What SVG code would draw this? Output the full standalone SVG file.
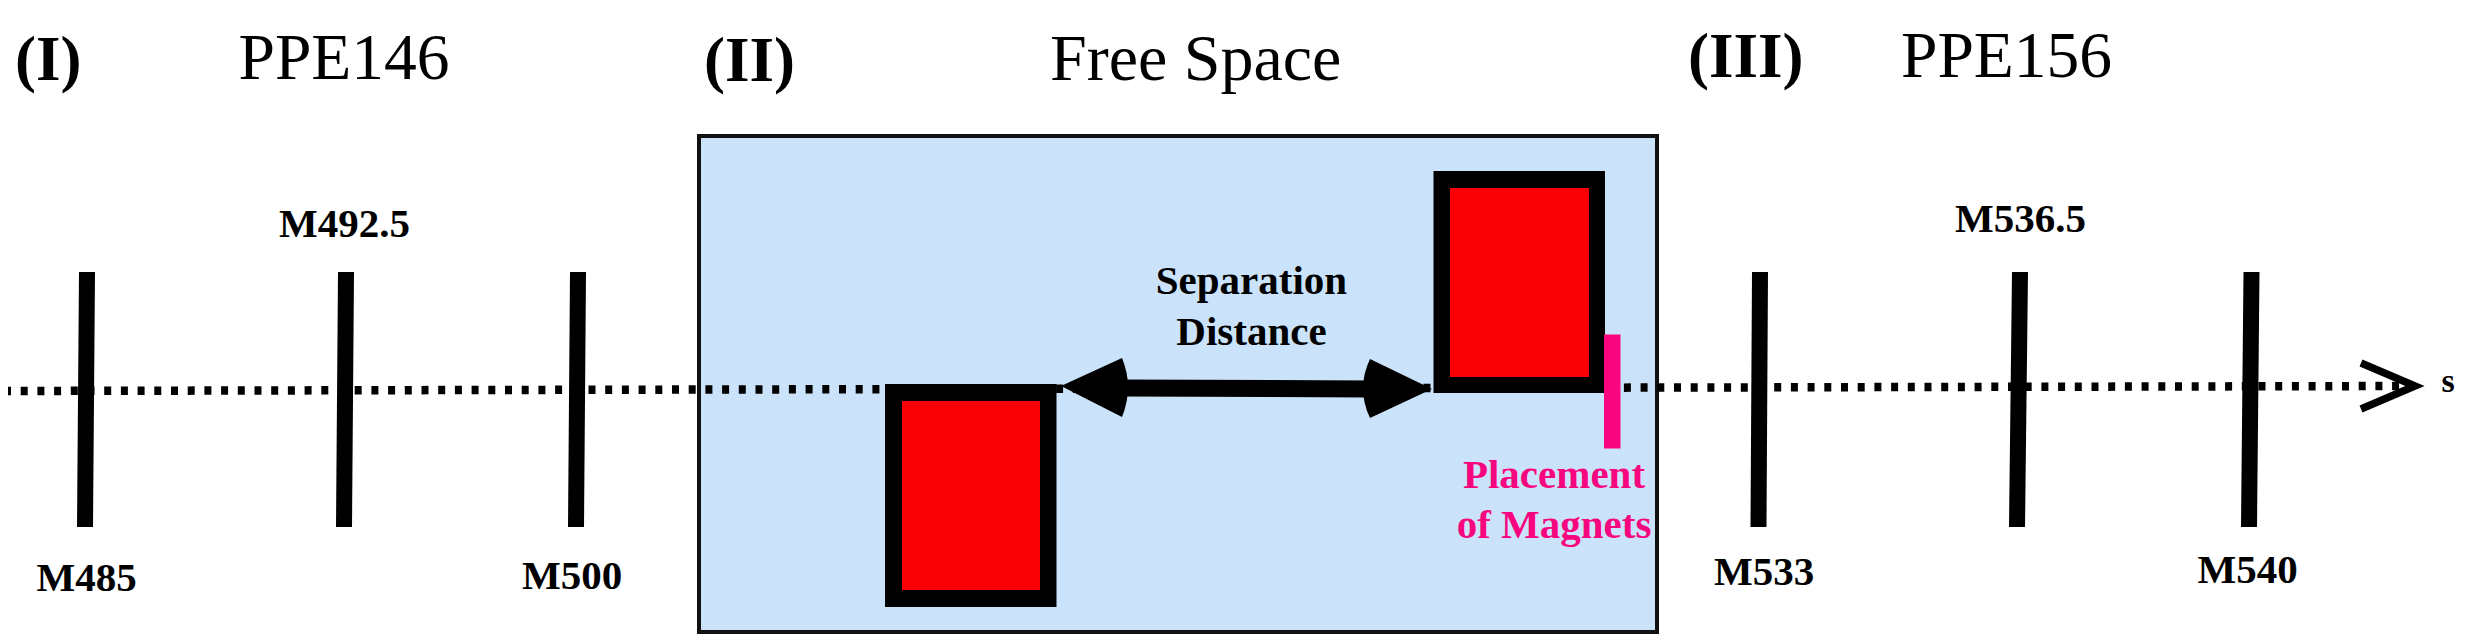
<svg xmlns="http://www.w3.org/2000/svg" width="2466" height="644" viewBox="0 0 2466 644">
<style>
  .hb { font-family: "Liberation Serif", "Times New Roman", serif; font-weight: bold; font-size: 63px; fill: #000; }
  .hr { font-family: "Liberation Serif", "Times New Roman", serif; font-weight: normal; font-size: 65.5px; fill: #000; }
  .lb { font-family: "Liberation Serif", "Times New Roman", serif; font-weight: bold; font-size: 41px; fill: #000; }
  .pk { font-family: "Liberation Serif", "Times New Roman", serif; font-weight: bold; font-size: 41px; fill: #F7067F; }
  .bar { stroke: #000; stroke-width: 16; stroke-linecap: butt; }
  .mag { fill: #000; }
  .core { fill: #F90006; }
</style>
<rect width="2466" height="644" fill="#fff"/>

<g id="titles">
  <text class="hb" x="15" y="80">(I)</text>
  <text class="hr" x="238.5" y="78.5">PPE146</text>
  <text class="hb" x="704" y="81">(II)</text>
  <text class="hr" x="1050" y="80" style="font-size:66px">Free Space</text>
  <text class="hb" x="1688" y="77">(III)</text>
  <text class="hr" x="1901" y="77">PPE156</text>
</g>

<g id="free-space-box">
  <rect x="699" y="136" width="958" height="496" fill="#CAE3FB" stroke="#111" stroke-width="4"/>
</g>

<g id="connectors">
  <line x1="8" y1="391" x2="2410" y2="386" stroke="#000" stroke-width="8.5" stroke-dasharray="7 9.7" stroke-dashoffset="4"/>
  <polyline points="2361,363 2415,386 2361,409" fill="none" stroke="#000" stroke-width="7.5" stroke-linejoin="miter"/>
  <g id="separation-arrow">
    <line x1="1120" y1="388" x2="1372" y2="389" stroke="#000" stroke-width="17"/>
    <path d="M1061,386 L1122,358 Q1134,387 1122,417 Z" fill="#000"/>
    <path d="M1432,389 L1370,359 Q1356,388.5 1370,418 Z" fill="#000"/>
  </g>
</g>

<g id="node-M485">
  <line class="bar" x1="87" y1="272" x2="85" y2="527"/>
  <text class="lb" x="36.5" y="591">M485</text>
</g>
<g id="node-M492.5">
  <line class="bar" x1="346" y1="272" x2="344" y2="527"/>
  <text class="lb" x="279" y="237">M492.5</text>
</g>
<g id="node-M500">
  <line class="bar" x1="578" y1="272" x2="576" y2="527"/>
  <text class="lb" x="522" y="589">M500</text>
</g>

<g id="node-magnet-left">
  <rect class="mag" x="885" y="384" width="171.5" height="223"/>
  <rect class="core" x="902" y="401" width="138" height="189"/>
</g>
<g id="node-magnet-right">
  <rect class="mag" x="1433.5" y="171" width="171.5" height="222"/>
  <rect class="core" x="1450" y="188" width="139" height="189"/>
</g>

<g id="node-separation-label">
  <text class="lb" x="1251.5" y="294" text-anchor="middle">Separation</text>
  <text class="lb" x="1251.5" y="344.5" text-anchor="middle">Distance</text>
</g>

<g id="node-placement">
  <rect x="1604" y="334.5" width="16.5" height="114" fill="#F7067F"/>
  <text class="pk" x="1554" y="488" text-anchor="middle">Placement</text>
  <text class="pk" x="1554" y="538" text-anchor="middle">of Magnets</text>
</g>

<g id="node-M533">
  <line class="bar" x1="1760" y1="272" x2="1758.5" y2="527"/>
  <text class="lb" x="1714" y="585">M533</text>
</g>
<g id="node-M536.5">
  <line class="bar" x1="2020" y1="272" x2="2017" y2="527"/>
  <text class="lb" x="1955" y="232">M536.5</text>
</g>
<g id="node-M540">
  <line class="bar" x1="2251.5" y1="272" x2="2249" y2="527"/>
  <text class="lb" x="2197.5" y="583">M540</text>
</g>

<g id="axis-label">
  <text class="lb" x="2441.5" y="391.5" style="font-size:34px">s</text>
</g>
</svg>
